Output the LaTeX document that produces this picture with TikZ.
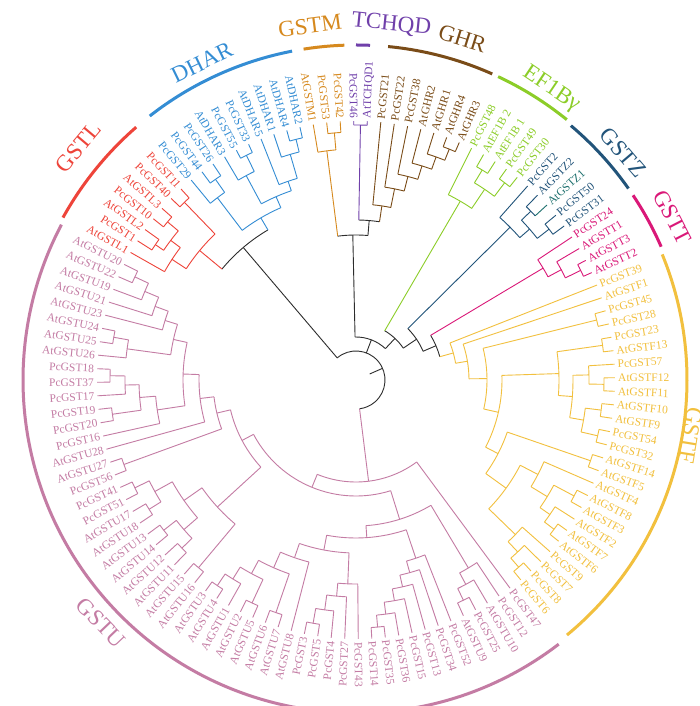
\documentclass[tikz,border=0pt]{standalone}
\usepackage{fontspec}
\setmainfont{Liberation Serif}

\definecolor{bb}{RGB}{45,45,45}
\definecolor{colL}{RGB}{238,68,58}
\definecolor{colD}{RGB}{52,141,212}
\definecolor{colM}{RGB}{214,137,30}
\definecolor{colQ}{RGB}{112,64,170}
\definecolor{colH}{RGB}{122,76,24}
\definecolor{colE}{RGB}{140,205,40}
\definecolor{colZ}{RGB}{34,84,122}
\definecolor{colZt}{RGB}{30,112,110}
\definecolor{colT}{RGB}{218,24,120}
\definecolor{colF}{RGB}{242,192,62}
\definecolor{colU}{RGB}{196,124,164}

\tikzset{
  branch/.style={line width=0.9pt},
  leaflab/.style={font=\fontsize{11.5}{12}\selectfont, inner sep=0pt},
  cladearc/.style={line width=3pt},
  cladelab/.style={font=\fontsize{23}{25}\selectfont, inner sep=0pt},
}

% angle and colour of every tree node
\newcommand\setang[2]{\expandafter\xdef\csname tang@#1\endcsname{#2}}
\newcommand\getang[1]{\csname tang@#1\endcsname}
\newcommand\setcol[2]{\expandafter\xdef\csname tcol@#1\endcsname{#2}}
\newcommand\getcol[1]{\csname tcol@#1\endcsname}

% leaf: colour, index, name, text
\newcommand\gstleaf[4]{%
  \pgfmathsetmacro\lfa{153.5-3*#2}%
  \setang{#3}{\lfa}\setcol{#3}{#1}%
  \coordinate (#3) at (\lfa:259pt);
  \pgfmathtruncatemacro\lfflip{cos(\lfa)<0}%
  \ifnum\lfflip=1
    \node[leaflab, text=#1, anchor=east, rotate=\lfa+180] (#3-lab) at (\lfa:262pt) {#4};
  \else
    \node[leaflab, text=#1, anchor=west, rotate=\lfa] (#3-lab) at (\lfa:262pt) {#4};
  \fi
}

% inner node: colour, name, radius, first child, second child
\newcommand\gstnode[5]{%
  \pgfmathsetmacro\nda{\getang{#4}}%
  \pgfmathsetmacro\ndb{\getang{#5}}%
  \pgfmathsetmacro\ndm{(\nda+\ndb)/2}%
  \setang{#2}{\ndm}\setcol{#2}{#1}%
  \coordinate (#2) at (\ndm:#3pt);
  \draw[branch, #1] (\nda:#3pt) arc[start angle=\nda, end angle=\ndb, radius=#3pt];
  \edef\ndca{\getcol{#4}}\edef\ndcb{\getcol{#5}}%
  \draw[branch, color=\ndca] (#4) -- (\nda:#3pt);
  \draw[branch, color=\ndcb] (#5) -- (\ndb:#3pt);
}

\begin{document}
\begin{tikzpicture}
\fill[white] (-356pt,-326pt) rectangle (344pt,380pt);
\useasboundingbox (-356pt,-326pt) rectangle (344pt,380pt);

% GSTL
\gstleaf{colL}{1}{AtGSTL1}{AtGSTL1}
\gstleaf{colL}{2}{PcGST1}{PcGST1}
\gstleaf{colL}{3}{AtGSTL2}{AtGSTL2}
\gstleaf{colL}{4}{PcGST10}{PcGST10}
\gstleaf{colL}{5}{AtGSTL3}{AtGSTL3}
\gstleaf{colL}{6}{PcGST40}{PcGST40}
\gstleaf{colL}{7}{PcGST11}{PcGST11}
% DHAR
\gstleaf{colD}{8}{PcGST29}{PcGST29}
\gstleaf{colD}{9}{PcGST44}{PcGST44}
\gstleaf{colD}{10}{PcGST26}{PcGST26}
\gstleaf{colD}{11}{AtDHAR3}{AtDHAR3}
\gstleaf{colD}{12}{PcGST55}{PcGST55}
\gstleaf{colD}{13}{PcGST33}{PcGST33}
\gstleaf{colD}{14}{AtDHAR5}{AtDHAR5}
\gstleaf{colD}{15}{AtDHAR1}{AtDHAR1}
\gstleaf{colD}{16}{AtDHAR4}{AtDHAR4}
\gstleaf{colD}{17}{AtDHAR2}{AtDHAR2}
% GSTM
\gstleaf{colM}{18}{AtGSTM1}{AtGSTM1}
\gstleaf{colM}{19}{PcGST53}{PcGST53}
\gstleaf{colM}{20}{PcGST42}{PcGST42}
% TCHQD
\gstleaf{colQ}{21}{PcGST46}{PcGST46}
\gstleaf{colQ}{22}{AtTCHQD1}{AtTCHQD1}
% GHR
\gstleaf{colH}{23}{PcGST21}{PcGST21}
\gstleaf{colH}{24}{PcGST22}{PcGST22}
\gstleaf{colH}{25}{PcGST38}{PcGST38}
\gstleaf{colH}{26}{AtGHR2}{AtGHR2}
\gstleaf{colH}{27}{AtGHR1}{AtGHR1}
\gstleaf{colH}{28}{AtGHR4}{AtGHR4}
\gstleaf{colH}{29}{AtGHR3}{AtGHR3}
% EF1B
\gstleaf{colE}{30}{PcGST48}{PcGST48}
\gstleaf{colE}{31}{AtEF1B2}{AtEF1B 2}
\gstleaf{colE}{32}{AtEF1B1}{AtEF1B 1}
\gstleaf{colE}{33}{PcGST49}{PcGST49}
\gstleaf{colE}{34}{PcGST30}{PcGST30}
% GSTZ
\gstleaf{colZ}{35}{PcGST2}{PcGST2}
\gstleaf{colZ}{36}{AtGSTZ2}{AtGSTZ2}
\gstleaf{colZt}{37}{AtGSTZ1}{AtGSTZ1}
\gstleaf{colZ}{38}{PcGST50}{PcGST50}
\gstleaf{colZ}{39}{PcGST31}{PcGST31}
% GSTT
\gstleaf{colT}{40}{PcGST24}{PcGST24}
\gstleaf{colT}{41}{AtGSTT1}{AtGSTT1}
\gstleaf{colT}{42}{AtGSTT3}{AtGSTT3}
\gstleaf{colT}{43}{AtGSTT2}{AtGSTT2}
% GSTF
\gstleaf{colF}{44}{PcGST39}{PcGST39}
\gstleaf{colF}{45}{AtGSTF1}{AtGSTF1}
\gstleaf{colF}{46}{PcGST45}{PcGST45}
\gstleaf{colF}{47}{PcGST28}{PcGST28}
\gstleaf{colF}{48}{PcGST23}{PcGST23}
\gstleaf{colF}{49}{AtGSTF13}{AtGSTF13}
\gstleaf{colF}{50}{PcGST57}{PcGST57}
\gstleaf{colF}{51}{AtGSTF12}{AtGSTF12}
\gstleaf{colF}{52}{AtGSTF11}{AtGSTF11}
\gstleaf{colF}{53}{AtGSTF10}{AtGSTF10}
\gstleaf{colF}{54}{AtGSTF9}{AtGSTF9}
\gstleaf{colF}{55}{PcGST54}{PcGST54}
\gstleaf{colF}{56}{PcGST32}{PcGST32}
\gstleaf{colF}{57}{AtGSTF14}{AtGSTF14}
\gstleaf{colF}{58}{AtGSTF5}{AtGSTF5}
\gstleaf{colF}{59}{AtGSTF4}{AtGSTF4}
\gstleaf{colF}{60}{AtGSTF8}{AtGSTF8}
\gstleaf{colF}{61}{AtGSTF3}{AtGSTF3}
\gstleaf{colF}{62}{AtGSTF2}{AtGSTF2}
\gstleaf{colF}{63}{AtGSTF7}{AtGSTF7}
\gstleaf{colF}{64}{AtGSTF6}{AtGSTF6}
\gstleaf{colF}{65}{PcGST9}{PcGST9}
\gstleaf{colF}{66}{PcGST7}{PcGST7}
\gstleaf{colF}{67}{PcGST8}{PcGST8}
\gstleaf{colF}{68}{PcGST6}{PcGST6}
% GSTU
\gstleaf{colU}{69}{PcGST47}{PcGST47}
\gstleaf{colU}{70}{PcGST12}{PcGST12}
\gstleaf{colU}{71}{AtGSTU10}{AtGSTU10}
\gstleaf{colU}{72}{PcGST25}{PcGST25}
\gstleaf{colU}{73}{AtGSTU9}{AtGSTU9}
\gstleaf{colU}{74}{PcGST52}{PcGST52}
\gstleaf{colU}{75}{PcGST34}{PcGST34}
\gstleaf{colU}{76}{PcGST13}{PcGST13}
\gstleaf{colU}{77}{PcGST15}{PcGST15}
\gstleaf{colU}{78}{PcGST36}{PcGST36}
\gstleaf{colU}{79}{PcGST35}{PcGST35}
\gstleaf{colU}{80}{PcGST14}{PcGST14}
\gstleaf{colU}{81}{PcGST43}{PcGST43}
\gstleaf{colU}{82}{PcGST27}{PcGST27}
\gstleaf{colU}{83}{PcGST4}{PcGST4}
\gstleaf{colU}{84}{PcGST5}{PcGST5}
\gstleaf{colU}{85}{PcGST3}{PcGST3}
\gstleaf{colU}{86}{AtGSTU8}{AtGSTU8}
\gstleaf{colU}{87}{AtGSTU7}{AtGSTU7}
\gstleaf{colU}{88}{AtGSTU6}{AtGSTU6}
\gstleaf{colU}{89}{AtGSTU5}{AtGSTU5}
\gstleaf{colU}{90}{AtGSTU2}{AtGSTU2}
\gstleaf{colU}{91}{AtGSTU1}{AtGSTU1}
\gstleaf{colU}{92}{AtGSTU4}{AtGSTU4}
\gstleaf{colU}{93}{AtGSTU3}{AtGSTU3}
\gstleaf{colU}{94}{AtGSTU16}{AtGSTU16}
\gstleaf{colU}{95}{AtGSTU15}{AtGSTU15}
\gstleaf{colU}{96}{AtGSTU11}{AtGSTU11}
\gstleaf{colU}{97}{AtGSTU12}{AtGSTU12}
\gstleaf{colU}{98}{AtGSTU14}{AtGSTU14}
\gstleaf{colU}{99}{AtGSTU13}{AtGSTU13}
\gstleaf{colU}{100}{AtGSTU18}{AtGSTU18}
\gstleaf{colU}{101}{AtGSTU17}{AtGSTU17}
\gstleaf{colU}{102}{PcGST51}{PcGST51}
\gstleaf{colU}{103}{PcGST41}{PcGST41}
\gstleaf{colU}{104}{PcGST56}{PcGST56}
\gstleaf{colU}{105}{AtGSTU27}{AtGSTU27}
\gstleaf{colU}{106}{AtGSTU28}{AtGSTU28}
\gstleaf{colU}{107}{PcGST16}{PcGST16}
\gstleaf{colU}{108}{PcGST20}{PcGST20}
\gstleaf{colU}{109}{PcGST19}{PcGST19}
\gstleaf{colU}{110}{PcGST17}{PcGST17}
\gstleaf{colU}{111}{PcGST37}{PcGST37}
\gstleaf{colU}{112}{PcGST18}{PcGST18}
\gstleaf{colU}{113}{AtGSTU26}{AtGSTU26}
\gstleaf{colU}{114}{AtGSTU25}{AtGSTU25}
\gstleaf{colU}{115}{AtGSTU24}{AtGSTU24}
\gstleaf{colU}{116}{AtGSTU23}{AtGSTU23}
\gstleaf{colU}{117}{AtGSTU21}{AtGSTU21}
\gstleaf{colU}{118}{AtGSTU19}{AtGSTU19}
\gstleaf{colU}{119}{AtGSTU22}{AtGSTU22}
\gstleaf{colU}{120}{AtGSTU20}{AtGSTU20}

% GSTL clade
\gstnode{colL}{Lp}{242}{PcGST1}{AtGSTL2}
\gstnode{colL}{Lq}{246}{PcGST10}{AtGSTL3}
\gstnode{colL}{Lr}{232}{Lp}{Lq}
\gstnode{colL}{Ls}{220}{AtGSTL1}{Lr}
\gstnode{colL}{Lt}{247}{PcGST40}{PcGST11}
\gstnode{colL}{GSTL}{203}{Ls}{Lt}
% DHAR clade
\gstnode{colD}{Da}{245}{PcGST44}{PcGST26}
\gstnode{colD}{Db}{229}{PcGST29}{Da}
\gstnode{colD}{Dc}{250}{PcGST55}{PcGST33}
\gstnode{colD}{Dd}{232}{AtDHAR3}{Dc}
\gstnode{colD}{De}{248}{AtDHAR4}{AtDHAR2}
\gstnode{colD}{Df}{235}{AtDHAR1}{De}
\gstnode{colD}{Dg}{210}{AtDHAR5}{Df}
\gstnode{colD}{Dh}{200}{Dd}{Dg}
\gstnode{colD}{DHAR}{188}{Db}{Dh}
\gstnode{bb}{GD}{174}{GSTL}{DHAR}
% GSTM, TCHQD, GHR
\gstnode{colM}{Ma}{248}{PcGST53}{PcGST42}
\gstnode{colM}{GSTM}{231}{AtGSTM1}{Ma}
\gstnode{colQ}{TCHQD}{255}{PcGST46}{AtTCHQD1}
\gstnode{colH}{Ha}{249}{AtGHR4}{AtGHR3}
\gstnode{colH}{Hb}{237}{AtGHR1}{Ha}
\gstnode{colH}{Hc}{224}{AtGHR2}{Hb}
\gstnode{colH}{Hd}{210}{PcGST38}{Hc}
\gstnode{colH}{He}{195}{PcGST22}{Hd}
\gstnode{colH}{GHR}{176}{PcGST21}{He}
\gstnode{bb}{Kb}{160}{TCHQD}{GHR}
\gstnode{bb}{Ka}{145}{GSTM}{Kb}
% EF1B
\gstnode{colE}{Ea}{245}{AtEF1B2}{AtEF1B1}
\gstnode{colE}{Eb}{247}{PcGST49}{PcGST30}
\gstnode{colE}{Ec}{230}{Ea}{Eb}
\gstnode{colE}{EFB}{207}{PcGST48}{Ec}
% GSTZ
\gstnode{colZ}{Za}{243}{AtGSTZ2}{AtGSTZ1}
\gstnode{colZ}{Zb}{245}{PcGST50}{PcGST31}
\gstnode{colZ}{Zc}{230}{Za}{Zb}
\gstnode{colZ}{GSTZ}{217}{PcGST2}{Zc}
% GSTT
\gstnode{colT}{Sa}{250}{AtGSTT3}{AtGSTT2}
\gstnode{colT}{Sb}{233}{AtGSTT1}{Sa}
\gstnode{colT}{GSTT}{218}{PcGST24}{Sb}
% GSTF
\gstnode{colF}{Fa}{248}{PcGST45}{PcGST28}
\gstnode{colF}{Fb}{249}{PcGST23}{AtGSTF13}
\gstnode{colF}{Fc}{248}{AtGSTF12}{AtGSTF11}
\gstnode{colF}{Fd}{233}{PcGST57}{Fc}
\gstnode{colF}{Fe}{247}{AtGSTF10}{AtGSTF9}
\gstnode{colF}{Ff}{248}{PcGST54}{PcGST32}
\gstnode{colF}{Fg}{231}{Fe}{Ff}
\gstnode{colF}{Fh}{217}{Fd}{Fg}
\gstnode{colF}{Fi}{203}{Fb}{Fh}
\gstnode{colF}{Fj}{248}{AtGSTF14}{AtGSTF5}
\gstnode{colF}{Fk}{247}{AtGSTF8}{AtGSTF3}
\gstnode{colF}{Fl}{248}{AtGSTF7}{AtGSTF6}
\gstnode{colF}{Fm}{236}{AtGSTF2}{Fl}
\gstnode{colF}{Fn}{224}{Fk}{Fm}
\gstnode{colF}{Fo}{205}{AtGSTF4}{Fn}
\gstnode{colF}{Fp}{248}{PcGST8}{PcGST6}
\gstnode{colF}{Fq}{236}{PcGST7}{Fp}
\gstnode{colF}{Fr}{222}{PcGST9}{Fq}
\gstnode{colF}{Fs}{185}{Fo}{Fr}
\gstnode{colF}{Ft}{160}{Fj}{Fs}
\gstnode{colF}{Fu}{146}{Fi}{Ft}
\gstnode{colF}{Fv}{131}{Fa}{Fu}
\gstnode{colF}{Fw}{113}{AtGSTF1}{Fv}
\gstnode{colF}{GSTF}{101}{PcGST39}{Fw}
% backbone
\gstnode{bb}{Ba}{87}{GSTT}{GSTF}
\gstnode{bb}{Bb}{73}{GSTZ}{Ba}
\gstnode{bb}{Bc}{57}{EFB}{Bb}
\gstnode{bb}{Bd}{43}{Ka}{Bc}
% GSTU
\gstnode{colU}{Ua}{245}{PcGST25}{AtGSTU9}
\gstnode{colU}{Ub}{232}{AtGSTU10}{Ua}
\gstnode{colU}{Uc}{219}{PcGST12}{Ub}
\gstnode{colU}{Ud}{248}{PcGST35}{PcGST14}
\gstnode{colU}{Ue}{236}{PcGST36}{Ud}
\gstnode{colU}{Uf}{224}{PcGST15}{Ue}
\gstnode{colU}{Ug}{212}{PcGST13}{Uf}
\gstnode{colU}{Uh}{200}{PcGST34}{Ug}
\gstnode{colU}{Ui}{188}{PcGST52}{Uh}
\gstnode{colU}{Uj}{247}{PcGST5}{PcGST3}
\gstnode{colU}{Uk}{232}{PcGST4}{Uj}
\gstnode{colU}{Ul}{217}{PcGST27}{Uk}
\gstnode{colU}{Um}{204}{PcGST43}{Ul}
\gstnode{colU}{Un}{246}{AtGSTU7}{AtGSTU6}
\gstnode{colU}{Uo}{246}{AtGSTU5}{AtGSTU2}
\gstnode{colU}{Up}{248}{AtGSTU4}{AtGSTU3}
\gstnode{colU}{Uq}{234}{AtGSTU1}{Up}
\gstnode{colU}{Ur}{220}{Uo}{Uq}
\gstnode{colU}{Us}{205}{Un}{Ur}
\gstnode{colU}{Ut}{188}{AtGSTU8}{Us}
\gstnode{colU}{Uu}{173}{Um}{Ut}
\gstnode{colU}{Uv}{158}{Ui}{Uu}
\gstnode{colU}{Uw}{146}{Uc}{Uv}
\gstnode{colU}{Ux}{245}{AtGSTU16}{AtGSTU15}
\gstnode{colU}{Uy}{242}{AtGSTU11}{AtGSTU12}
\gstnode{colU}{Uz}{244}{AtGSTU14}{AtGSTU13}
\gstnode{colU}{Va}{228}{Uy}{Uz}
\gstnode{colU}{Vb}{244}{AtGSTU18}{AtGSTU17}
\gstnode{colU}{Vc}{246}{PcGST51}{PcGST41}
\gstnode{colU}{Vd}{230}{Vb}{Vc}
\gstnode{colU}{Ve}{210}{Va}{Vd}
\gstnode{colU}{Vf}{188}{Ux}{Ve}
\gstnode{colU}{Vg}{247}{PcGST56}{AtGSTU27}
\gstnode{colU}{Vh}{246}{PcGST37}{PcGST18}
\gstnode{colU}{Vi}{231}{PcGST17}{Vh}
\gstnode{colU}{Vj}{246}{PcGST20}{PcGST19}
\gstnode{colU}{Vk}{217}{Vj}{Vi}
\gstnode{colU}{Vl}{201}{PcGST16}{Vk}
\gstnode{colU}{Vm}{246}{AtGSTU25}{AtGSTU24}
\gstnode{colU}{Vn}{231}{AtGSTU26}{Vm}
\gstnode{colU}{Vo}{244}{AtGSTU22}{AtGSTU20}
\gstnode{colU}{Vp}{229}{AtGSTU19}{Vo}
\gstnode{colU}{Vq}{214}{AtGSTU21}{Vp}
\gstnode{colU}{Vr}{200}{AtGSTU23}{Vq}
\gstnode{colU}{Vs}{187}{Vn}{Vr}
\gstnode{colU}{Vt}{173}{Vl}{Vs}
\gstnode{colU}{Vu}{157}{AtGSTU28}{Vt}
\gstnode{colU}{Vv}{143}{Vg}{Vu}
\gstnode{colU}{Vw}{129}{Vf}{Vv}
\gstnode{colU}{Vx}{116}{Uw}{Vw}
\gstnode{colU}{GSTU}{102}{PcGST47}{Vx}
% root
\gstnode{bb}{root}{29}{GD}{GSTU}
\pgfmathsetmacro\bda{\getang{Bd}}
\pgfmathsetmacro\rta{\getang{root}}
\draw[branch, bb] (Bd) -- (\bda:29pt);
\draw[branch, bb] (root) -- (\rta:15pt);

% clade arcs and names
\draw[cladearc, colL] (151:335pt) arc[start angle=151, end angle=131, radius=335pt];
\draw[cladearc, colD] (128:335pt) arc[start angle=128, end angle=101, radius=335pt];
\draw[cladearc, colM] (99:335pt) arc[start angle=99, end angle=92, radius=335pt];
\draw[cladearc, colQ] (90:335pt) arc[start angle=90, end angle=87.6, radius=335pt];
\draw[cladearc, colH] (84.5:335pt) arc[start angle=84.5, end angle=66, radius=335pt];
\draw[cladearc, colE] (64.9:335pt) arc[start angle=64.9, end angle=51, radius=335pt];
\draw[cladearc, colZ] (49.8:333pt) arc[start angle=49.8, end angle=35.1, radius=333pt];
\draw[cladearc, colT] (33.7:333pt) arc[start angle=33.7, end angle=23.6, radius=333pt];
\draw[cladearc, colF] (22.3:331pt) arc[start angle=22.3, end angle=-50.4, radius=331pt];
\draw[cladearc, colU] (-52.5:333pt) arc[start angle=-52.5, end angle=-207.8, radius=333pt];

\node[cladelab, text=colL, rotate=50] (labL) at (140:362pt) {GSTL};
\node[cladelab, text=colD, rotate=25.9] (labD) at (115.9:353pt) {DHAR};
\node[cladelab, text=colM, rotate=7.4] (labM) at (97.4:357pt) {GSTM};
\node[cladelab, text=colQ, rotate=-5.7] (labQ) at (84.3:357pt) {TCHQD};
\node[cladelab, text=colH, rotate=-17.3] (labH) at (72.7:358pt) {GHR};
\node[cladelab, text=colE, rotate=-33.9] (labE) at (56.1:350pt) {EF1Bγ};
\node[cladelab, text=colZ, rotate=-49.6] (labZ) at (40.4:351pt) {GSTZ};
\node[cladelab, text=colT, rotate=-62.8] (labT) at (27.2:356pt) {GSTT};
\node[cladelab, text=colF, rotate=-99.4] (labF) at (-9.4:339pt) {GSTF};
\node[cladelab, text=colU, rotate=-46.4] (labU) at (-136.4:352pt) {GSTU};
\end{tikzpicture}
\end{document}
